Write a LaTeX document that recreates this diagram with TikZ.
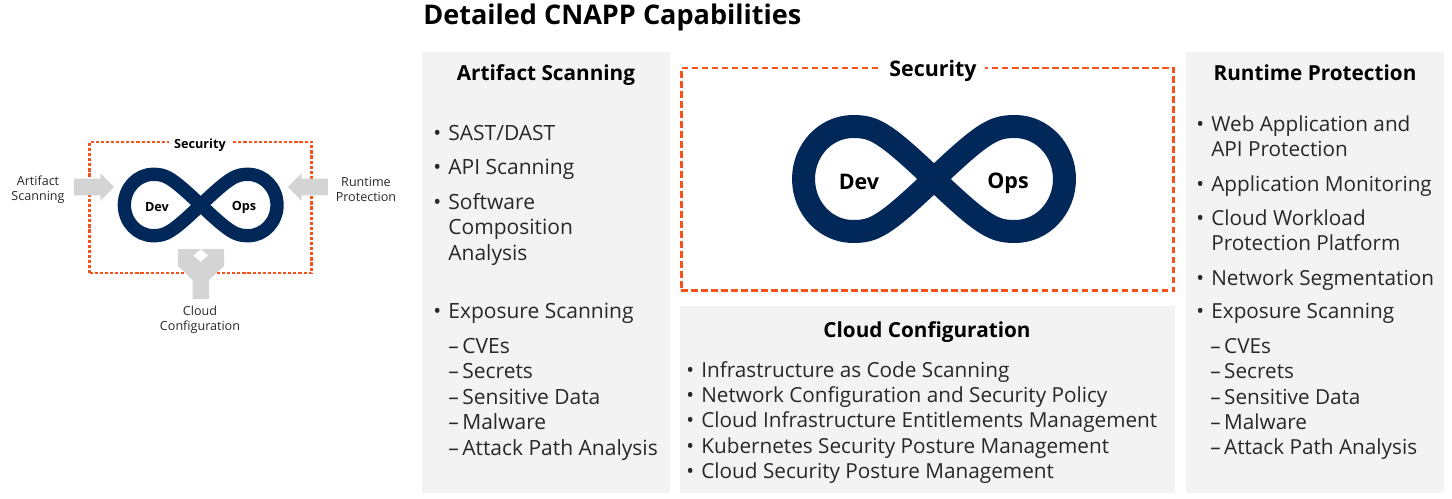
\documentclass[tikz,border=0pt]{standalone}
\usepackage{fontspec}
\setmainfont{Open Sans}
\usetikzlibrary{positioning, shapes.arrows}
\definecolor{panelgray}{RGB}{243,243,243}
\definecolor{arrowgray}{RGB}{212,212,212}
\definecolor{loopnavy}{RGB}{2,40,90}
\definecolor{dashorange}{RGB}{248,82,24}
\definecolor{inktext}{RGB}{40,40,40}
\tikzset{
  panel/.style={rectangle, fill=panelgray, anchor=north west, inner sep=0pt},
  securebox/.style={rectangle, draw=dashorange, anchor=north west, inner sep=0pt, outer sep=0pt},
  heading/.style={font=\fontsize{11.8}{14}\selectfont\bfseries, text=black, inner sep=0pt},
  bigloop/.style={font=\fontsize{12.2}{14}\selectfont\bfseries, text=black, inner sep=0pt},
  smallloop/.style={font=\fontsize{7.2}{8}\selectfont\bfseries, text=black, inner sep=0pt},
  entry/.style={font=\fontsize{11.95}{14.45}\selectfont, text=inktext, inner sep=0pt,
    align=left, anchor=north west},
  sideentry/.style={entry, font=\fontsize{11.8}{14.45}\selectfont},
  caption/.style={font=\fontsize{7.15}{8.5}\selectfont, text=inktext, inner sep=0pt, align=center},
  flowarrow/.style={single arrow, fill=arrowgray, inner sep=0pt, minimum height=0.8cm,
    text height=0.32cm, text depth=0pt, text width=0pt, single arrow head extend=0.11cm}
}
% figure-eight band, centred on the pic origin
\tikzset{
  devops/.pic={
    \draw[loopnavy, line cap=round, line join=round]
      (0,0) .. controls (-1.0,0.95) and (-1.2,1.05) .. (-1.62,1.05)
      arc[start angle=90, end angle=270, x radius=0.99, y radius=1.05]
      .. controls (-1.2,-1.05) and (-1.0,-0.95) .. (0,0)
      .. controls (1.0,0.95) and (1.2,1.05) .. (1.62,1.05)
      arc[start angle=90, end angle=-90, x radius=0.99, y radius=1.05]
      .. controls (1.2,-1.05) and (1.0,-0.95) .. (0,0) -- cycle;
  }
}
\newcommand{\bull}{\makebox[0.3cm][l]{\textbullet}}
\newcommand{\cont}{\hspace{0.3cm}}
\begin{document}
\begin{tikzpicture}[x=0.02cm, y=-0.02cm]
  \useasboundingbox (0,0) rectangle (1452,498);

  \node[heading, font=\fontsize{15.4}{18}\selectfont\bfseries, anchor=west] (title) at (423,17) {Detailed CNAPP Capabilities};

  % panels
  \node[panel, minimum width=4.96cm, minimum height=8.82cm] (artifact) at (422,52) {};
  \node[panel, minimum width=9.9cm, minimum height=3.74cm] (cloud) at (680,306) {};
  \node[panel, minimum width=5.16cm, minimum height=8.82cm] (runtime) at (1186,52) {};

  \node[heading] (artifacthead) at (546,75) {Artifact Scanning};
  \node[heading] (cloudhead) at (927,332) {Cloud Configuration};
  \node[heading] (runtimehead) at (1315,73) {Runtime Protection};

  % left column
  \node[entry] (a1) at (433,125) {\bull SAST/DAST};
  \node[entry] (a2) at (433,159) {\bull API Scanning};
  \node[entry] (a3) at (433,193) {\bull Software\\\cont Composition\\\cont Analysis};
  \node[entry] (a4) at (433,303) {\bull Exposure Scanning};
  \node[entry] (a5) at (448,338) {–\,CVEs\\–\,Secrets\\–\,Sensitive Data\\–\,Malware\\–\,Attack Path Analysis};

  % bottom panel
  \node[entry, font=\fontsize{11.8}{14.3}\selectfont] (c1) at (686,361.5) {\bull Infrastructure as Code Scanning\\\bull Network Configuration and Security Policy\\\bull Cloud Infrastructure Entitlements Management\\\bull Kubernetes Security Posture Management\\\bull Cloud Security Posture Management};

  % right column
  \node[sideentry] (r1) at (1196,115) {\bull Web Application and\\\cont API Protection};
  \node[sideentry] (r2) at (1196,175) {\bull Application Monitoring};
  \node[sideentry] (r3) at (1196,209) {\bull Cloud Workload\\\cont Protection Platform};
  \node[sideentry] (r4) at (1196,269) {\bull Network Segmentation};
  \node[sideentry] (r5) at (1196,303) {\bull Exposure Scanning};
  \node[sideentry] (r6) at (1210,338) {–\,CVEs\\–\,Secrets\\–\,Sensitive Data\\–\,Malware\\–\,Attack Path Analysis};

  % large security frame
  \node[securebox, line width=1.7pt, dash pattern=on 3.7pt off 2pt, minimum width=9.86cm, minimum height=4.46cm] (bigframe) at (681,68) {};
  \node[heading, font=\fontsize{12.2}{14}\selectfont\bfseries, fill=white, inner xsep=5pt, inner ysep=1pt] (bigsec) at (933,71) {Security};
  \coordinate (bigmid) at (934,179);
  \pic[line width=0.46cm, scale=1, x=1cm, y=1cm] at (bigmid) {devops};
  \node[bigloop] (bigdev) at (859,181.5) {Dev};
  \node[bigloop] (bigops) at (1008,183) {Ops};

  % small security frame
  \node[securebox, line width=1.2pt, dash pattern=on 1.8pt off 1.1pt, minimum width=4.44cm, minimum height=2.62cm] (smallframe) at (89.5,142) {};
  \node[smallloop, fill=white, inner xsep=3pt, inner ysep=1pt] (smallsec) at (200,145) {Security};
  \coordinate (smallmid) at (200.7,205);
  \pic[line width=0.267cm, scale=0.585, x=1cm, y=1cm] at (smallmid) {devops};
  \node[smallloop] (smalldev) at (157,207) {Dev};
  \node[smallloop] (smallops) at (244,207.5) {Ops};

  \node[flowarrow] (artifactarrow) at (90,187) {};
  \node[flowarrow, shape border rotate=180] (runtimearrow) at (312,187) {};
  \fill[arrowgray] (178,249) -- (200.7,249) -- (193.2,255.5) -- (200.7,262) -- (208.2,255.5) -- (200.7,249) -- (224,249)
    -- (224,266) -- (209,280) -- (209,299) -- (192.5,299) -- (192.5,280) -- (178,266) -- cycle;

  \node[caption] (artifactcap) at (38,190) {Artifact\\Scanning};
  \node[caption] (runtimecap) at (366,189) {Runtime\\Protection};
  \node[caption] (cloudcap) at (200,320) {Cloud\\Configuration};
\end{tikzpicture}
\end{document}
